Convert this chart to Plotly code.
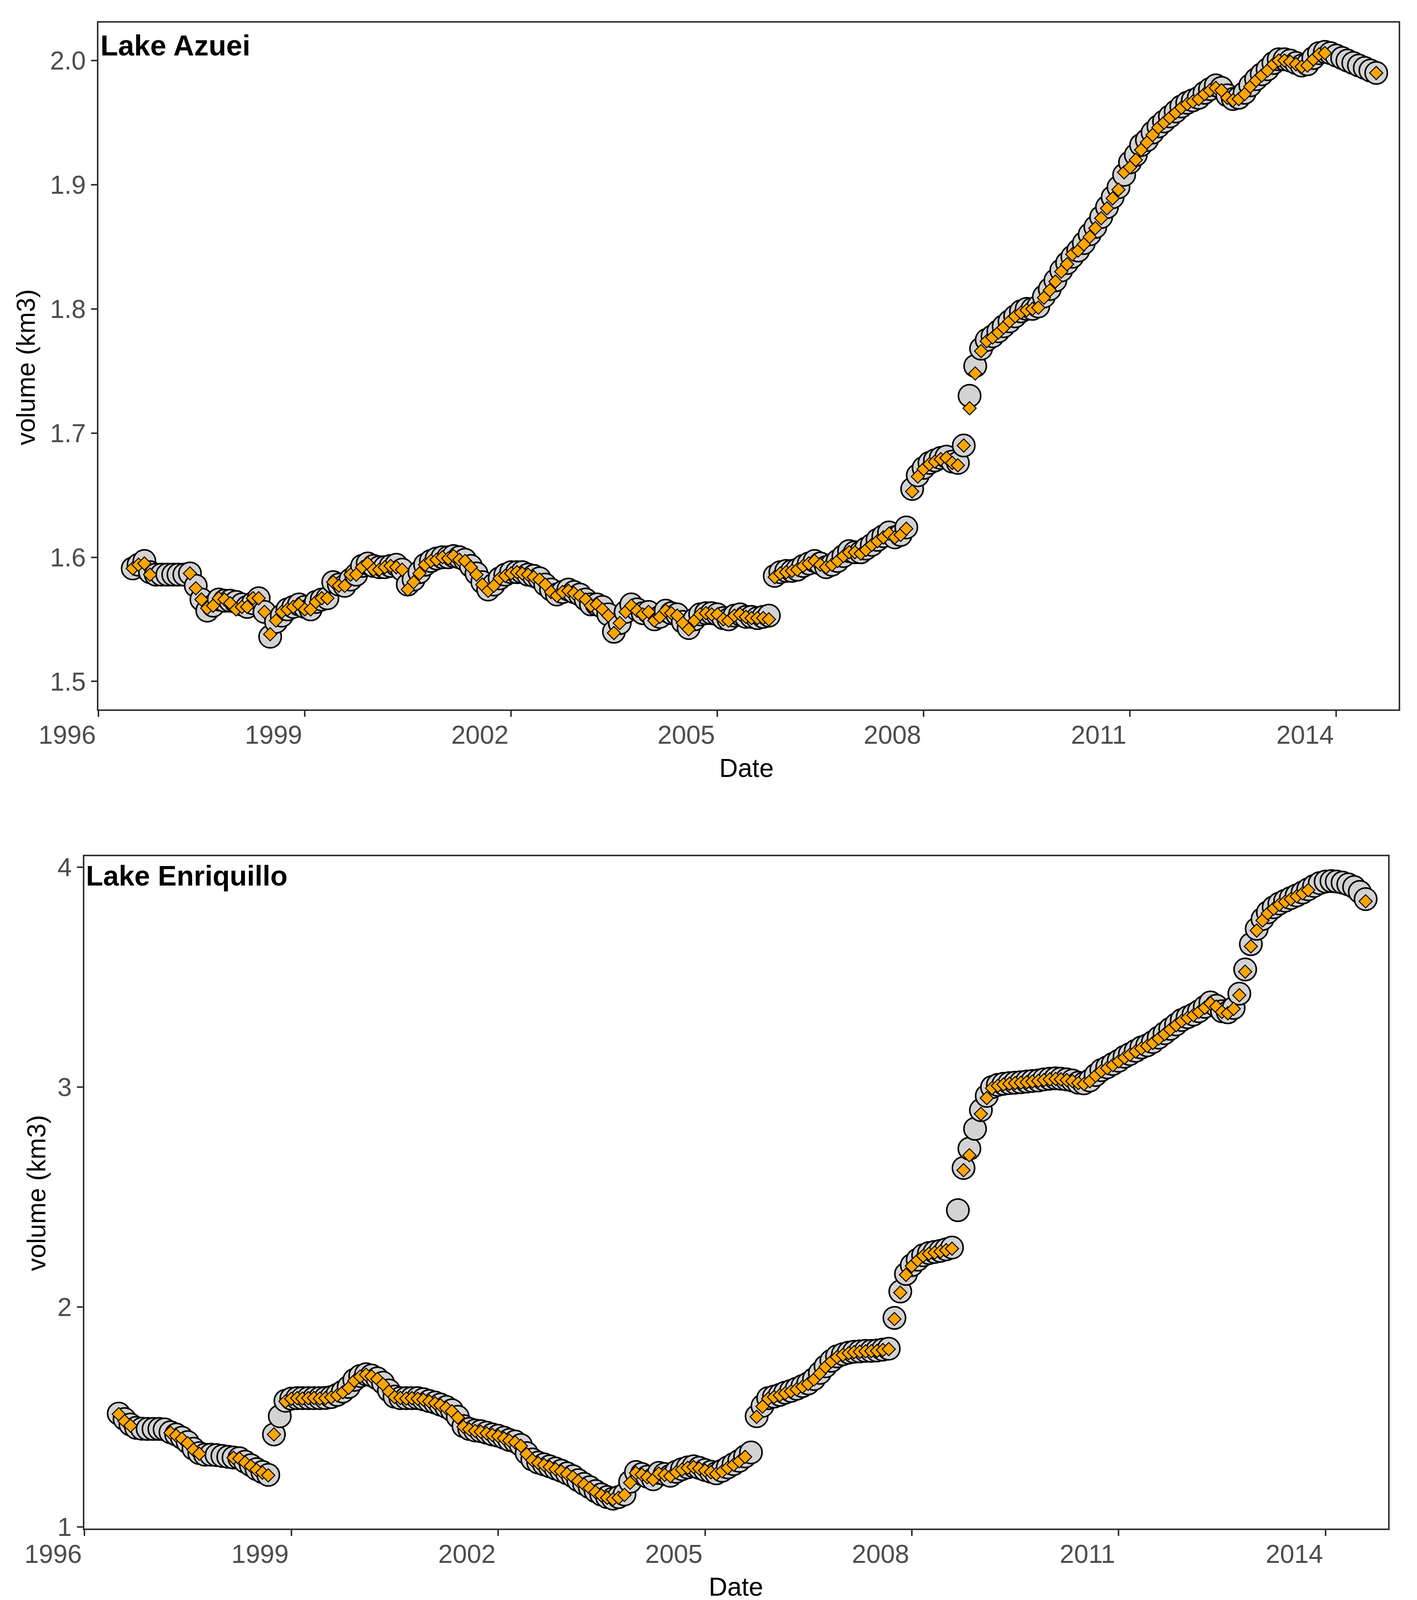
import plotly.graph_objects as go

# monthly samples, first one July 1996, last one August 2014
START_YEAR, START_MONTH = 1996, 7

azuei_volume = [
    1.591, 1.594, 1.597, 1.588, 1.586, 1.586,
    1.586, 1.586, 1.586, 1.586, 1.587, 1.577, 1.566, 1.557, 1.561, 1.566, 1.565, 1.565,
    1.564, 1.562, 1.560, 1.563, 1.567, 1.556, 1.536, 1.548, 1.553, 1.558, 1.560, 1.562,
    1.560, 1.558, 1.564, 1.566, 1.567, 1.580, 1.578, 1.577, 1.582, 1.586, 1.593, 1.595,
    1.593, 1.592, 1.592, 1.593, 1.594, 1.590, 1.578, 1.582, 1.588, 1.594, 1.597, 1.599,
    1.600, 1.600, 1.601, 1.600, 1.598, 1.593, 1.587, 1.580, 1.574, 1.578, 1.583, 1.586,
    1.588, 1.588, 1.588, 1.586, 1.585, 1.583, 1.578, 1.574, 1.570, 1.572, 1.574, 1.572,
    1.570, 1.566, 1.562, 1.562, 1.560, 1.554, 1.540, 1.547, 1.556, 1.562, 1.558, 1.555,
    1.556, 1.550, 1.552, 1.557, 1.555, 1.554, 1.548, 1.543, 1.550, 1.554, 1.555, 1.555,
    1.554, 1.551, 1.550, 1.553, 1.554, 1.552, 1.552, 1.551, 1.552, 1.553, 1.585, 1.588,
    1.589, 1.589, 1.590, 1.593, 1.595, 1.597, 1.595, 1.592, 1.594, 1.597, 1.601, 1.605,
    1.604, 1.604, 1.607, 1.610, 1.614, 1.617, 1.620, 1.616, 1.618, 1.624, 1.655, 1.666,
    1.672, 1.676, 1.678, 1.680, 1.681, 1.677, 1.676, 1.690, 1.730, 1.754, 1.768, 1.775,
    1.778, 1.782, 1.786, 1.790, 1.794, 1.798, 1.800, 1.800, 1.802, 1.810, 1.816, 1.823,
    1.831, 1.837, 1.842, 1.847, 1.853, 1.860, 1.866, 1.874, 1.882, 1.890, 1.898, 1.908,
    1.918, 1.924, 1.932, 1.936, 1.942, 1.947, 1.951, 1.955, 1.959, 1.963, 1.966, 1.968,
    1.970, 1.974, 1.977, 1.980, 1.978, 1.972, 1.969, 1.970, 1.974, 1.980, 1.985, 1.989,
    1.993, 1.998, 2.001, 2.001, 2.000, 1.998, 1.996, 1.997, 2.002, 2.006, 2.007, 2.006,
    2.004, 2.002, 2.000, 1.998, 1.996, 1.994, 1.992, 1.990,
]

azuei_altimetry = [
    1.591, 1.594, 1.595, 1.586, None, None,
    None, None, None, None, 1.587, 1.575, 1.566, 1.559, 1.561, 1.567, 1.566, 1.563,
    1.558, 1.560, 1.560, 1.567, 1.567, 1.556, 1.538, 1.549, 1.556, 1.558, 1.560, 1.562,
    1.558, 1.558, 1.564, 1.567, 1.567, 1.580, 1.577, 1.577, 1.586, 1.586, 1.592, 1.595,
    1.590, 1.590, 1.592, 1.593, 1.592, 1.590, 1.574, 1.580, 1.587, 1.594, 1.597, 1.598,
    1.600, 1.599, 1.601, 1.598, 1.597, 1.592, 1.586, 1.578, 1.573, 1.577, 1.583, 1.585,
    1.587, 1.588, 1.587, 1.586, 1.584, 1.582, 1.578, 1.572, 1.569, 1.572, 1.573, 1.571,
    1.569, 1.566, 1.561, 1.562, 1.558, 1.553, 1.539, 1.547, 1.556, 1.561, 1.557, 1.554,
    1.556, 1.549, 1.552, 1.557, 1.555, 1.553, 1.547, 1.542, 1.549, 1.554, 1.555, 1.554,
    1.554, 1.550, 1.549, 1.553, 1.554, 1.552, 1.551, 1.551, 1.551, 1.550, 1.584, 1.587,
    1.588, 1.589, 1.590, 1.593, 1.595, 1.597, 1.594, 1.592, 1.594, 1.597, 1.601, 1.604,
    1.604, 1.603, 1.606, 1.610, 1.613, 1.616, 1.619, 1.616, 1.618, 1.623, 1.653, 1.665,
    1.671, 1.675, 1.677, 1.679, 1.680, 1.676, 1.674, 1.690, 1.720, 1.748, 1.766, 1.774,
    1.777, 1.781, 1.785, 1.790, 1.794, 1.797, 1.799, 1.800, 1.801, 1.809, 1.815, 1.822,
    1.830, 1.836, 1.844, 1.847, 1.852, 1.858, 1.865, 1.873, 1.881, 1.889, 1.896, 1.910,
    1.914, 1.920, 1.928, 1.934, 1.940, 1.946, 1.950, 1.954, 1.958, 1.962, 1.965, 1.967,
    1.969, 1.973, 1.976, 1.978, 1.976, 1.970, 1.968, 1.969, 1.973, 1.979, 1.984, 1.988,
    1.992, 1.997, 2.000, 2.000, 1.999, 1.997, 1.995, 1.996, 2.001, 2.005, 2.006, None,
    None, None, None, None, None, None, None, 1.990,
]

enriquillo_volume = [
    1.515, 1.490, 1.465, 1.450, 1.446, 1.445,
    1.445, 1.445, 1.443, 1.430, 1.420, 1.405, 1.385, 1.355, 1.335, 1.328, 1.328, 1.326,
    1.322, 1.318, 1.315, 1.312, 1.296, 1.280, 1.262, 1.249, 1.236, 1.420, 1.503, 1.573,
    1.583, 1.585, 1.585, 1.585, 1.585, 1.585, 1.586, 1.590, 1.600, 1.615, 1.636, 1.668,
    1.686, 1.694, 1.688, 1.675, 1.655, 1.620, 1.592, 1.585, 1.585, 1.585, 1.585, 1.580,
    1.572, 1.565, 1.556, 1.545, 1.530, 1.500, 1.458, 1.445, 1.438, 1.435, 1.428, 1.420,
    1.414, 1.405, 1.395, 1.388, 1.372, 1.335, 1.306, 1.292, 1.284, 1.275, 1.265, 1.255,
    1.243, 1.230, 1.212, 1.195, 1.180, 1.162, 1.147, 1.135, 1.128, 1.135, 1.147, 1.205,
    1.249, 1.240, 1.228, 1.216, 1.245, 1.240, 1.232, 1.250, 1.262, 1.270, 1.275, 1.268,
    1.258, 1.250, 1.243, 1.255, 1.270, 1.285, 1.300, 1.320, 1.338, 1.503, 1.550, 1.585,
    1.592, 1.600, 1.610, 1.618, 1.628, 1.640, 1.652, 1.672, 1.700, 1.730, 1.755, 1.775,
    1.785, 1.792, 1.796, 1.798, 1.800, 1.800, 1.802, 1.806, 1.810, 1.950, 2.070, 2.150,
    2.190, 2.215, 2.235, 2.245, 2.250, 2.255, 2.262, 2.270, 2.440, 2.632, 2.720, 2.810,
    2.895, 2.960, 3.000, 3.010, 3.015, 3.018, 3.020, 3.022, 3.025, 3.028, 3.030, 3.035,
    3.038, 3.040, 3.038, 3.035, 3.030, 3.020, 3.017, 3.030, 3.055, 3.077, 3.090, 3.105,
    3.120, 3.138, 3.150, 3.165, 3.180, 3.190, 3.205, 3.225, 3.245, 3.265, 3.285, 3.305,
    3.318, 3.330, 3.345, 3.365, 3.385, 3.370, 3.345, 3.340, 3.360, 3.425, 3.535, 3.650,
    3.720, 3.765, 3.795, 3.818, 3.835, 3.848, 3.860, 3.872, 3.885, 3.900, 3.915, 3.928,
    3.935, 3.937, 3.935, 3.930, 3.922, 3.910, 3.888, 3.855,
]

enriquillo_altimetry = [
    1.512, 1.480, 1.460, None, None, None,
    None, None, None, 1.428, 1.415, 1.400, 1.380, 1.350, 1.332, None, None, None,
    None, None, 1.314, 1.310, 1.292, 1.276, 1.259, 1.246, 1.234, 1.420, None, 1.570,
    1.582, 1.585, 1.583, 1.585, 1.586, 1.583, 1.585, 1.589, 1.598, 1.612, 1.632, 1.664,
    1.683, 1.692, 1.684, 1.672, 1.648, 1.615, 1.590, 1.586, 1.583, 1.585, 1.582, 1.578,
    1.570, 1.562, 1.553, 1.540, 1.525, 1.497, 1.455, 1.443, 1.436, 1.432, 1.425, 1.418,
    1.412, 1.402, 1.392, 1.384, 1.368, 1.330, 1.303, 1.290, 1.281, 1.272, 1.262, 1.252,
    1.240, 1.226, 1.208, 1.192, 1.176, 1.158, 1.143, 1.132, 1.125, 1.132, 1.145, 1.200,
    1.245, 1.237, 1.225, 1.214, 1.242, 1.236, 1.230, 1.248, 1.260, 1.268, 1.272, 1.265,
    1.256, 1.248, 1.240, 1.252, 1.268, 1.282, 1.298, 1.318, None, 1.500, 1.547, 1.582,
    1.590, 1.598, 1.607, 1.616, 1.625, 1.637, 1.650, 1.670, 1.697, 1.727, 1.752, 1.772,
    1.782, 1.790, 1.794, 1.796, 1.798, 1.799, 1.800, 1.804, 1.808, 1.945, 2.065, 2.146,
    2.186, 2.212, 2.232, 2.242, 2.247, 2.252, 2.258, 2.265, None, 2.622, 2.690, None,
    2.878, 2.950, 2.995, 3.006, 3.012, 3.015, 3.018, 3.020, 3.022, 3.025, 3.028, 3.032,
    3.035, 3.037, 3.035, 3.032, 3.027, 3.018, 3.014, 3.027, 3.052, 3.073, 3.086, 3.100,
    3.117, 3.134, 3.147, 3.162, 3.176, 3.187, 3.201, 3.221, 3.241, 3.262, 3.282, 3.301,
    3.315, 3.327, 3.342, 3.361, 3.381, 3.366, 3.342, 3.336, 3.356, 3.418, 3.525, 3.640,
    3.712, 3.758, 3.790, 3.812, 3.830, 3.843, 3.855, 3.868, 3.881, 3.896, None, None,
    None, None, None, None, None, None, None, 3.845,
]

year_ticks = ["1996", "1999", "2002", "2005", "2008", "2011", "2014"]
azuei_yticks = [1.5, 1.6, 1.7, 1.8, 1.9, 2.0]
azuei_ytext = ["1.5", "1.6", "1.7", "1.8", "1.9", "2.0"]
enriquillo_yticks = [1, 2, 3, 4]


def month_starts(year, month, count):
    out = []
    for i in range(count):
        m = month - 1 + i
        out.append(f"{year + m // 12}-{m % 12 + 1:02d}-01")
    return out


dates = month_starts(START_YEAR, START_MONTH, len(azuei_volume))

W, H = 3627, 4106
FONT = "Liberation Sans, Arial, sans-serif"
AXIS_COLOR = "#333333"
TICK_COLOR = "#4D4D4D"


def px_x(v):
    return v / W


def px_y(v):
    return 1 - v / H


fig = go.Figure()

panels = [
    ("x", "y", azuei_volume, azuei_altimetry),
    ("x2", "y2", enriquillo_volume, enriquillo_altimetry),
]
for xa, ya, circles, diamonds in panels:
    fig.add_trace(go.Scatter(
        x=dates, y=circles, xaxis=xa, yaxis=ya, mode="markers",
        marker=dict(symbol="circle", size=57, color="#D3D3D3",
                    line=dict(color="black", width=4)),
        showlegend=False, hoverinfo="x+y",
    ))
    fig.add_trace(go.Scatter(
        x=dates, y=diamonds, xaxis=xa, yaxis=ya, mode="markers",
        marker=dict(symbol="diamond", size=26, color="#FFA500",
                    line=dict(color="black", width=2.5)),
        showlegend=False, hoverinfo="x+y",
    ))

x_common = dict(
    type="date",
    range=["1996-01-01", "2014-11-28"],
    tickvals=[f"{y}-01-01" for y in year_ticks],
    ticktext=year_ticks,
    ticks="outside", ticklen=15, tickwidth=3.5, tickcolor=AXIS_COLOR,
    showline=True, mirror=True, linewidth=4, linecolor=AXIS_COLOR,
    showgrid=False, zeroline=False, automargin=False,
    tickfont=dict(family=FONT, size=66, color=TICK_COLOR),
    ticklabelshift=-80, ticklabelstandoff=-10,
)
y_common = dict(
    ticks="outside", ticklen=15, tickwidth=3.5, tickcolor=AXIS_COLOR,
    showline=True, mirror=True, linewidth=4, linecolor=AXIS_COLOR,
    showgrid=False, zeroline=False, automargin=False,
    tickfont=dict(family=FONT, size=66, color=TICK_COLOR),
    ticklabelstandoff=0,
)

fig.update_layout(
    width=W, height=H,
    margin=dict(l=0, r=0, t=0, b=0, autoexpand=False),
    paper_bgcolor="white", plot_bgcolor="white",
    xaxis=dict(domain=[px_x(252), px_x(3580)], anchor="y", **x_common),
    yaxis=dict(domain=[px_y(1816), px_y(58)], anchor="x",
               range=[1.4775, 2.0305], tickvals=azuei_yticks,
               ticktext=azuei_ytext, **y_common),
    xaxis2=dict(domain=[px_x(216), px_x(3553)], anchor="y2", **x_common),
    yaxis2=dict(domain=[px_y(3913), px_y(2192)], anchor="x2",
                range=[0.992, 4.05], tickvals=enriquillo_yticks,
                ticktext=[str(v) for v in enriquillo_yticks], **y_common),
)

labels = [
    ("<b>Lake Azuei</b>", 256, 117, "left", 0, 74),
    ("<b>Lake Enriquillo</b>", 219, 2242, "left", 0, 72),
    ("Date", 1910, 1966, "center", 0, 66),
    ("Date", 1883, 4062, "center", 0, 66),
    ("volume (km3)", 66, 940, "center", -90, 66),
    ("volume (km3)", 93, 3054, "center", -90, 66),
]
for text, x, y, xanchor, angle, size in labels:
    fig.add_annotation(
        text=text, xref="paper", yref="paper", x=px_x(x), y=px_y(y),
        xanchor=xanchor, yanchor="middle", textangle=angle, showarrow=False,
        font=dict(family=FONT, size=size, color="black"), borderpad=0,
    )

fig.write_html("out.html", config={"displayModeBar": False},
               post_script="document.body.style.margin='0';")
